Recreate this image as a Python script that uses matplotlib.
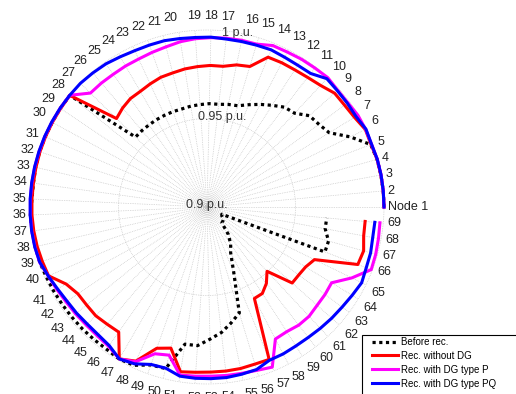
import numpy as np
import matplotlib
matplotlib.use("Agg")
import matplotlib.pyplot as plt
from matplotlib.lines import Line2D
from matplotlib.patches import Rectangle

plt.rcParams["font.family"] = ["Liberation Sans", "DejaVu Sans"]

nodes = list(range(1, 70))
node_labels = ["Node 1"] + [str(n) for n in nodes[1:]]

before_rec = [
    1.0000, 1.0000, 0.9999, 0.9998, 0.9990, 0.9901, 0.9808, 0.9786, 0.9775, 0.9725,
    0.9714, 0.9682, 0.9653, 0.9624, 0.9598, 0.9592, 0.9584, 0.9584, 0.9580, 0.9577,
    0.9572, 0.9572, 0.9571, 0.9570, 0.9568, 0.9567, 0.9565, 0.9999, 0.9999, 0.9997,
    0.9997, 0.9996, 0.9994, 0.9990, 0.9990, 0.9999, 0.9998, 0.9996, 0.9995, 0.9990,
    0.9988, 0.9986, 0.9985, 0.9985, 0.9984, 0.9984, 0.9992, 0.9985, 0.9947, 0.9942,
    0.9785, 0.9785, 0.9747, 0.9714, 0.9669, 0.9626, 0.9401, 0.9290, 0.9248, 0.9197,
    0.9123, 0.9120, 0.9116, 0.9098, 0.9093, 0.9713, 0.9713, 0.9679, 0.9679,
]
rec_no_dg = [
    1.0000, 1.0000, 0.9999, 0.9998, 0.9992, 0.9996, 0.9975, 0.9967, 0.9966, 0.9940,
    0.9927, 0.9920, 0.9918, 0.9914, 0.9830, 0.9820, 0.9800, 0.9800, 0.9795, 0.9790,
    0.9782, 0.9778, 0.9766, 0.9754, 0.9750, 0.9735, 0.9715, 0.9999, 0.9997, 0.9996,
    0.9995, 0.9994, 0.9992, 0.9990, 0.9990, 0.9990, 0.9988, 0.9985, 0.9980, 0.9976,
    0.9907, 0.9879, 0.9877, 0.9879, 0.9870, 0.9865, 0.9991, 0.9959, 0.9847, 0.9823,
    0.9943, 0.9936, 0.9933, 0.9933, 0.9932, 0.9928, 0.9930, 0.9582, 0.9580, 0.9547,
    0.9497, 0.9645, 0.9645, 0.9652, 0.9676, 0.9912, 0.9919, 0.9900, 0.9897,
]
rec_dg_p = [
    1.0000, 1.0000, 1.0000, 0.9999, 0.9995, 0.9998, 0.9998, 0.9990, 0.9990, 1.0000,
    0.9994, 0.9991, 0.9986, 0.9985, 0.9962, 0.9962, 0.9960, 0.9957, 0.9953, 0.9946,
    0.9934, 0.9927, 0.9921, 0.9920, 0.9918, 0.9920, 0.9921, 1.0000, 1.0000, 0.9999,
    0.9999, 0.9999, 0.9999, 0.9999, 0.9999, 0.9999, 0.9999, 0.9998, 0.9996, 0.9978,
    0.9968, 0.9960, 0.9957, 0.9954, 0.9956, 0.9964, 0.9991, 0.9963, 0.9880, 0.9864,
    0.9962, 0.9958, 0.9956, 0.9958, 0.9960, 0.9965, 0.9977, 0.9840, 0.9836, 0.9845,
    0.9845, 0.9834, 0.9830, 0.9824, 0.9911, 0.9993, 0.9990, 0.9985, 0.9981,
]
rec_dg_pq = [
    1.0000, 1.0000, 1.0000, 0.9999, 0.9995, 1.0000, 0.9985, 0.9986, 0.9987, 0.9992,
    0.9955, 0.9951, 0.9953, 0.9959, 0.9956, 0.9955, 0.9955, 0.9960, 0.9960, 0.9964,
    0.9970, 0.9971, 0.9973, 0.9980, 0.9990, 0.9995, 1.0000, 1.0000, 1.0000, 1.0000,
    1.0000, 1.0000, 1.0000, 1.0000, 1.0000, 1.0000, 1.0000, 0.9999, 0.9995, 0.9978,
    0.9963, 0.9953, 0.9950, 0.9946, 0.9948, 0.9958, 0.9991, 0.9976, 0.9944, 0.9940,
    0.9968, 0.9970, 0.9970, 0.9970, 0.9965, 0.9960, 0.9935, 0.9935, 0.9932, 0.9933,
    0.9938, 0.9944, 0.9950, 0.9960, 0.9973, 0.9963, 0.9960, 0.9952, 0.9952,
]

theta = np.deg2rad((np.array(nodes) - 1) * 360.0 / len(nodes))

fig = plt.figure(figsize=(5.16, 3.94), dpi=100)
# centre of the polar plot at (207, 207) px, 1 p.u. ring ~177 px
ax = fig.add_axes([0.02384, -0.01954, 0.75465, 0.98832], projection="polar")
ax.set_ylim(0.9, 1.01)
ax.set_axis_off()

grid_kw = dict(color="#bdbdbd", lw=0.5, ls=(0, (1, 1.5)), zorder=1)
for t in theta:
    ax.plot([t, t], [0.9, 1.0], **grid_kw)
ring = np.linspace(0, 2 * np.pi, 400)
for rr in (0.95, 1.0):
    ax.plot(ring, np.full_like(ring, rr), **grid_kw)

ax.plot(theta, before_rec, color="black", lw=2.3, ls=(0, (1, 1.1)), zorder=3)
ax.plot(theta, rec_no_dg, color="red", lw=2.2, zorder=4)
ax.plot(theta, rec_dg_p, color="magenta", lw=2.2, zorder=5)
ax.plot(theta, rec_dg_pq, color="blue", lw=2.2, zorder=6)

for t, lab in zip(theta, node_labels):
    c, s = np.cos(t), np.sin(t)
    ha = "left" if c > 0.15 else ("right" if c < -0.15 else "center")
    va = "bottom" if s > 0.4 else ("top" if s < -0.4 else "center")
    ax.text(t, 1.002 + 0.0025 * abs(s), lab, ha=ha, va=va, fontsize=9,
            color="#222222")

ax.text(np.deg2rad(90), 0.9012, "0.9 p.u.", ha="center", va="center",
        fontsize=9, color="#333333", zorder=2)
ax.text(np.deg2rad(80.2), 0.9516, "0.95 p.u.", ha="center", va="center",
        fontsize=9, color="#333333", zorder=2)
ax.text(np.deg2rad(79.9), 1.0, "1 p.u.", ha="center", va="center",
        fontsize=9, color="#333333", zorder=2)

# legend box, clipped by the figure edge as in the original
fig.patches.append(Rectangle((362 / 516, -0.05), 0.4, 1 - 335 / 394 + 0.05,
                             transform=fig.transFigure, fill=False,
                             edgecolor="black", lw=0.8))
handles = [
    Line2D([], [], color="black", lw=2.3, ls=(0, (1, 1.1))),
    Line2D([], [], color="red", lw=2.2),
    Line2D([], [], color="magenta", lw=2.2),
    Line2D([], [], color="blue", lw=2.2),
]
labels = ["Before rec.", "Rec. without DG", "Rec. with DG type P",
          "Rec. with DG type PQ"]
fig.legend(handles, labels, loc="upper left",
           bbox_to_anchor=(372 / 516, 1 - 337 / 394), frameon=False,
           fontsize=7, borderpad=0, borderaxespad=0, handlelength=2.7,
           handletextpad=0.3, labelspacing=0.4)

fig.savefig("out.png", dpi=100)
